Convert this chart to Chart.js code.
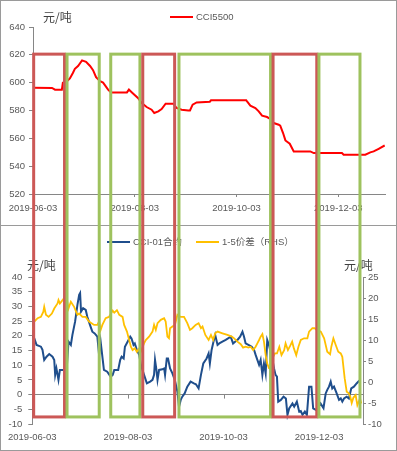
<!DOCTYPE html>
<html><head><meta charset="utf-8">
<script src="https://cdn.jsdelivr.net/npm/chart.js@4.4.1/dist/chart.umd.min.js"></script>
<style>
html,body{margin:0;padding:0;background:#fff;}
#wrap{position:relative;width:397px;height:451px;overflow:hidden;background:#fff;}
.panel{position:absolute;left:0;width:397px;box-sizing:border-box;border:1px solid #9a9a9a;}
canvas{position:absolute;left:0;}
</style></head><body>
<div id="wrap">
<div class="panel" style="top:0;height:226px;"></div>
<div class="panel" style="top:225px;height:226px;"></div>
<canvas id="top" width="397" height="225" style="top:0"></canvas>
<canvas id="bot" width="397" height="226" style="top:225px"></canvas>
<canvas id="ovl" width="397" height="451" style="top:0;pointer-events:none"></canvas>
</div>
<script>
// ---- data (x = days since 2019-06-03) ----
const xTickDays = [0, 61, 122, 183];
const xTickLabels = ['2019-06-03', '2019-08-03', '2019-10-03', '2019-12-03'];

const cciDays = [0,11.4,13.2,17.3,17.9,20.3,22.1,23.9,25.1,27,29.4,31.8,34.2,36,37.8,40.2,42,43.2,45,46.8,56.3,57.5,59.3,61.1,62.9,65.2,68.1,71.1,72.7,75.1,77.1,79.5,84.1,86.1,89.1,93.1,94.1,95.7,98.1,106,106.7,127.8,128.3,130.3,133.3,135.3,137.3,140.3,142.2,144.3,147.3,148.2,149.9,151.3,153.9,156.3,166.2,168.3,185.2,186.2,199.2,202.2,204.2,207.2,210.8];
const cciValues = [596.4,596.2,595,595,600,601,603,607,610,612,616,615,612,609,604,601,600,598,595,593,593,595,593,591,589,585.4,582.5,580.6,578.2,579.4,581,584.9,584.9,581.8,580.6,580,580,584.2,585.8,586.3,587.3,587.3,586.5,583.5,581.8,579.4,576.3,575.3,573.9,571,569.8,569.1,563.8,558.5,556.1,550.6,550.6,549.4,549.4,548.2,548.2,549.9,550.6,552.5,554.9];

const c01Days = [0,1.3,2.7,5.5,6.5,7.6,9.1,10.8,12.9,14.0,14.6,15.4,16.7,17.6,19.3,21.9,23.1,24.6,25.6,27.3,28.8,29.9,30.5,31.1,32.4,34.1,35.1,36.8,38.3,39.8,41.5,42.6,43.6,45.7,47.8,50.0,51.3,52.3,54.8,56.1,57.0,58.3,59.1,60.8,62.5,63.3,64.6,65.4,66.7,68.2,69.3,71.3,73.1,75.2,76.7,77.7,78.3,79.2,79.9,80.9,83.0,84.1,84.7,85.8,86.6,87.9,89.4,90.9,92.6,93.6,94.7,95.7,97.2,98.9,101.0,103.1,104.4,106.1,107.6,109.1,111.2,112.5,113.3,114.4,115.6,116.7,118.2,119.3,121.3,123.4,126.6,128.1,129.4,130.9,132.6,134.1,135.1,136.1,137.9,140.0,141.5,142.5,143.6,144.7,145.7,146.8,147.8,148.9,149.9,151.0,152.0,153.1,154.2,155.2,156.1,156.9,158.6,160.3,161.8,162.8,163.9,166.0,167.1,168.8,170.3,171.3,172.4,173.9,175.2,176.6,178.1,179.2,180.9,181.7,183.9,185.8,187.2,188.2,189.3,190.4,191.4,192.5,194.2,195.7,196.8,197.8,198.9,200.6,202.0,203.5,205.2,206.9,208.4,209.3];
const c01Values = [20.0,19.1,16.9,16.3,15.2,11.8,12.9,13.8,12.9,11.8,6.7,8.9,5.0,8.4,8.4,8.4,18.0,16.9,20.3,24.8,30.5,33.9,34.5,28.2,29.4,28.8,26.5,23.7,21.4,20.8,19.7,13.5,18.0,8.4,7.8,6.1,6.7,8.4,8.4,11.8,12.9,12.3,16.3,18.0,19.7,19.1,16.9,17.4,15.2,13.5,10.1,6.7,3.8,4.4,5.0,6.7,11.8,8.4,5.0,8.4,8.6,8.9,6.7,12.3,12.3,8.9,7.2,5.0,1.0,-4.2,-1.8,-0.7,0.4,2.7,4.4,3.8,3.5,2.1,6.7,10.6,12.3,14.0,10.6,15.2,18.0,20.3,16.9,17.4,18.0,18.6,19.7,17.4,18.0,18.6,19.7,21.4,19.7,17.4,16.9,16.3,15.2,13.5,11.8,10.1,11.8,6.7,10.6,7.2,18.6,16.9,14.6,12.3,9.0,6.7,6.1,-2.4,-1.8,-0.7,-1.3,-6.9,-4.7,-3.0,-4.1,-2.4,-5.8,-5.6,-6.9,-5.8,-6.9,2.7,2.7,-4.7,-5.2,-5.0,-3.0,-4.6,0.4,1.6,2.7,4.4,2.1,2.7,0.4,-1.8,-1.3,-2.4,-1.3,-0.7,-1.3,2.1,2.7,3.8,4.6,5.0];

const spreadDays = [0,1.3,3.4,5.5,7.0,7.6,8.7,10.4,12.5,14.0,16.1,16.7,17.6,19.3,21.0,22.0,23.1,24.6,26.7,28.8,29.9,32.0,34.1,36.2,39.4,41.5,42.6,43.6,44.7,46.8,48.9,51.3,52.3,54.0,55.5,57.6,58.6,60.4,61.8,62.9,64.0,65.4,66.7,68.2,68.8,71.3,72.4,74.5,76.7,77.7,78.8,79.9,82.0,84.1,85.1,86.2,87.2,87.9,89.4,91.0,92.6,94.7,96.8,98.9,100.6,102.1,104.2,106.1,107.6,108.6,110.4,112.5,114.0,115.4,116.7,118.2,121.3,124.5,127.3,128.8,130.9,133.0,134.5,136.1,137.9,139.3,140.9,142.5,143.6,144.7,145.7,146.8,147.8,148.9,149.9,151.0,152.5,153.7,154.8,156.1,157.6,159.0,160.7,161.6,163.1,164.5,165.8,166.9,168.4,169.8,171.3,173.4,175.5,176.6,178.7,180.2,181.5,184.1,186.2,188.2,190.0,190.8,192.1,193.6,195.2,196.8,197.8,199.3,200.6,202.0,202.9,203.8,204.9,206.3,207.4,209.1,209.9];
const spreadValues = [12.4,14.4,15.2,15.5,16.7,17.9,16.0,15.5,16.3,17.5,18.7,19.5,18.7,19.5,20.3,19.8,17.5,19.1,17.9,16.0,16.3,15.5,15.5,14.4,13.6,13.6,14.4,12.4,13.6,15.2,15.5,17.0,16.5,17.1,16.0,15.5,13.6,12.0,10.0,8.4,7.6,8.0,7.2,8.0,6.8,9.2,10.0,10.8,12.0,13.6,12.4,14.0,14.8,15.2,14.4,10.8,10.4,12.8,13.2,13.6,16.0,15.5,15.5,14.0,12.4,12.8,13.6,14.0,12.8,13.2,11.2,10.0,11.2,10.0,11.6,12.0,11.6,11.2,10.8,10.4,9.6,9.0,8.2,8.4,8.2,8.4,7.6,8.4,9.2,10.0,10.8,11.4,9.6,6.4,4.4,3.3,3.3,6.0,6.8,6.8,8.4,6.4,7.6,9.2,7.6,8.6,9.6,8.0,6.4,8.4,10.0,10.4,10.4,12.0,12.8,12.8,12.4,12.0,10.4,7.2,6.6,8.4,10.4,8.8,7.2,6.8,6.0,0.9,-2.3,-2.7,-3.5,-5.0,-3.7,-3.1,-5.5,-3.9,-5.1];

// highlighted periods (days), kind: 'down' = red box, 'up' = green box
const periodStart = [0.4, 20.4, 46.6, 65.8, 87.5, 143.9, 171.4];
const periodEnd   = [18.9, 39.7, 64.1, 84.9, 142.4, 170.1, 196.0];
const periodKind  = ['down','up','up','down','up','down','up'];
const boxTopValue = 620.5;      // on CCI5500 axis
const boxBottomValue = -7.6;    // on CCI-01 axis

// ---- styling ----
const AX = '#868686', TXT = '#595959';
const FONT = '"Liberation Sans", Arial, sans-serif';
const CJK = '"Noto Sans CJK SC", "Noto Sans", sans-serif';
Chart.defaults.font.family = FONT;
Chart.defaults.font.size = 9.5;
Chart.defaults.color = TXT;

const pts = (xs, ys) => xs.map((d, i) => ({x: d, y: ys[i]}));
const xAxisBase = (extra) => Object.assign({
  type: 'linear', min: 0, max: 211,
  afterBuildTicks: s => { s.ticks = xTickDays.map(v => ({value: v})); },
  ticks: {autoSkip: false, maxRotation: 0, callback: (v, i) => xTickLabels[i]}
}, extra);

function drawLegendItem(ctx, x, y, color, label, lw) {
  ctx.save();
  ctx.strokeStyle = color; ctx.lineWidth = lw;
  ctx.beginPath(); ctx.moveTo(x, y); ctx.lineTo(x + 23, y); ctx.stroke();
  ctx.fillStyle = TXT; ctx.font = '9.5px ' + FONT.replace('"Liberation Sans"', '"Liberation Sans", "Noto Sans CJK SC"');
  ctx.textBaseline = 'middle'; ctx.textAlign = 'left';
  ctx.fillText(label, x + 26, y + 0.5);
  ctx.restore();
}
function unitText(ctx, x, y) {
  ctx.save();
  ctx.fillStyle = '#404040'; ctx.font = '12px ' + CJK;
  ctx.textBaseline = 'middle'; ctx.textAlign = 'left';
  ctx.fillText('元/吨', x, y);
  ctx.restore();
}

const topDecor = {
  id: 'topDecor',
  afterDraw(chart) {
    const ctx = chart.ctx;
    unitText(ctx, 43, 17);
    const ds = chart.data.datasets[0];
    drawLegendItem(ctx, 170, 17, ds.borderColor, ds.label, 2);
  }
};
const botDecor = {
  id: 'botDecor',
  afterDraw(chart) {
    const ctx = chart.ctx;
    unitText(ctx, 27, 40);
    unitText(ctx, 344, 40);
    const d0 = chart.data.datasets[0], d1 = chart.data.datasets[1];
    drawLegendItem(ctx, 107, 17, d0.borderColor, d0.label, 2);
    drawLegendItem(ctx, 196, 17, d1.borderColor, d1.label, 2);
    // small tick marks on the zero line
    const sx = chart.scales.x, y0 = chart.scales.yL.getPixelForValue(0);
    ctx.save(); ctx.strokeStyle = AX; ctx.lineWidth = 1;
    xTickDays.forEach(v => {
      if (v === 0) return;
      const px = Math.round(sx.getPixelForValue(v)) + 0.5;
      ctx.beginPath(); ctx.moveTo(px, y0); ctx.lineTo(px, y0 + 4); ctx.stroke();
    });
    ctx.restore();
  }
};

const topChart = new Chart(document.getElementById('top'), {
  type: 'line',
  data: {datasets: [{
    label: 'CCI5500', data: pts(cciDays, cciValues),
    borderColor: '#FF0000', borderWidth: 2, pointRadius: 0, tension: 0, fill: false
  }]},
  options: {
    responsive: false, animation: false, events: [],
    layout: {padding: {top: 27, right: 12, left: 0, bottom: 0}},
    plugins: {legend: {display: false}, tooltip: {enabled: false}},
    scales: {
      x: xAxisBase({
        ticks: {autoSkip: false, maxRotation: 0, padding: 6, callback: (v, i) => xTickLabels[i]},
        grid: {display: true, drawOnChartArea: false, drawTicks: true, tickLength: 3, color: AX},
        border: {display: true, color: AX},
        afterFit: s => { s.height = 31; }
      }),
      y: {
        min: 520, max: 640,
        ticks: {stepSize: 20, padding: 4},
        grid: {display: true, drawOnChartArea: false, drawTicks: true, tickLength: 4, color: AX},
        border: {display: true, color: AX},
        afterFit: s => { s.width = 33; }
      }
    }
  },
  plugins: [topDecor]
});

const botChart = new Chart(document.getElementById('bot'), {
  type: 'line',
  data: {datasets: [
    {label: 'CCI-01合约', data: pts(c01Days, c01Values), yAxisID: 'yL', order: 1,
     borderColor: '#1F4E8C', borderWidth: 2, pointRadius: 0, tension: 0, fill: false},
    {label: '1-5价差（RHS）', data: pts(spreadDays, spreadValues), yAxisID: 'yR', order: 0,
     borderColor: '#FFC000', borderWidth: 1.8, pointRadius: 0, tension: 0, fill: false}
  ]},
  options: {
    responsive: false, animation: false, events: [],
    layout: {padding: {top: 52, right: 0, left: 0, bottom: 0}},
    plugins: {legend: {display: false}, tooltip: {enabled: false}},
    scales: {
      x: xAxisBase({
        ticks: {autoSkip: false, maxRotation: 0, padding: 8, callback: (v, i) => xTickLabels[i]},
        grid: {display: false, drawTicks: false, tickLength: 0},
        border: {display: false},
        afterFit: s => { s.height = 27; }
      }),
      yL: {
        position: 'left', min: -10, max: 40,
        ticks: {stepSize: 5, padding: 6},
        grid: {display: true, drawOnChartArea: true, drawTicks: true, tickLength: 4,
               color: c => (c.tick && c.tick.value === 0) ? AX : 'rgba(0,0,0,0)', tickColor: AX},
        border: {display: true, color: AX},
        afterFit: s => { s.width = 31; }
      },
      yR: {
        position: 'right', min: -10, max: 25,
        ticks: {stepSize: 5, padding: 2},
        grid: {display: true, drawOnChartArea: false, drawTicks: true, tickLength: 3, color: AX},
        border: {display: true, color: AX},
        afterFit: s => { s.width = 34; }
      }
    }
  },
  plugins: [botDecor]
});

// ---- overlay boxes spanning both panels ----
(function drawBoxes() {
  const ctx = document.getElementById('ovl').getContext('2d');
  const tx = topChart.scales.x, ty = topChart.scales.y, by = botChart.scales.yL;
  const botOffset = 225;
  const colors = {down: '#CC5856', up: '#9EC25E'};
  periodStart.forEach((s, i) => {
    const x1 = tx.getPixelForValue(s), x2 = tx.getPixelForValue(periodEnd[i]);
    const y1 = ty.getPixelForValue(boxTopValue);
    const y2 = by.getPixelForValue(boxBottomValue) + botOffset;
    ctx.strokeStyle = colors[periodKind[i]];
    ctx.lineWidth = 3;
    ctx.strokeRect(x1, y1, x2 - x1, y2 - y1);
  });
})();
</script>
</body></html>
